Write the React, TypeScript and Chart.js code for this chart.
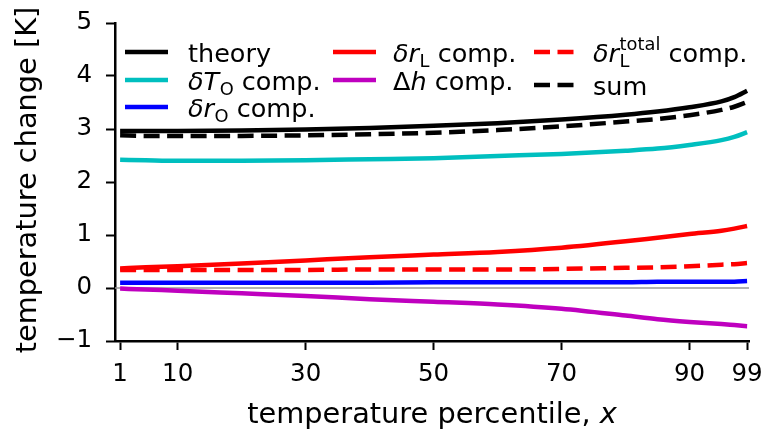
import React, { useEffect, useRef } from 'react';
import { Chart, registerables } from 'chart.js';
Chart.register(...registerables);

const percentiles = [1, 5, 10, 20, 30, 40, 50, 60, 70, 80, 85, 90, 95, 97, 99];
const theory = [2.96, 2.96, 2.96, 2.97, 2.99, 3.02, 3.06, 3.11, 3.18, 3.27, 3.33, 3.41, 3.52, 3.6, 3.72];
const dTOcomp = [2.42, 2.41, 2.4, 2.4, 2.41, 2.43, 2.45, 2.49, 2.53, 2.59, 2.63, 2.7, 2.79, 2.85, 2.94];
const drOcomp = [0.1, 0.1, 0.1, 0.1, 0.1, 0.1, 0.11, 0.11, 0.11, 0.11, 0.12, 0.12, 0.12, 0.12, 0.13];
const drLcomp = [0.37, 0.39, 0.41, 0.46, 0.52, 0.58, 0.63, 0.68, 0.76, 0.88, 0.95, 1.02, 1.08, 1.12, 1.17];
const dhComp = [-0.01, -0.03, -0.05, -0.1, -0.15, -0.21, -0.26, -0.31, -0.39, -0.52, -0.59, -0.64, -0.68, -0.7, -0.72];
const drLtotalComp = [0.34, 0.34, 0.34, 0.34, 0.34, 0.35, 0.35, 0.35, 0.36, 0.38, 0.39, 0.41, 0.44, 0.45, 0.47];
const sumComp = [2.88, 2.87, 2.87, 2.87, 2.88, 2.9, 2.93, 2.98, 3.05, 3.14, 3.19, 3.26, 3.36, 3.42, 3.51];
const xTicks = [1, 10, 30, 50, 70, 90, 99];
const yTicks = [-1, 0, 1, 2, 3, 4, 5];
const xRange = [0.2, 99.3];

const FONT = '"DejaVu Sans"';
const LW = 4.5;
const DASH = [16, 7.5];

type Seg = { t: string; it?: boolean; scale?: number; dy?: number; noAdv?: boolean; dx?: number };

function drawRich(ctx: CanvasRenderingContext2D, x: number, y: number, segs: Seg[], size: number) {
  let cx = x;
  for (const s of segs) {
    const fs = size * (s.scale || 1);
    ctx.font = `${s.it ? 'italic ' : ''}${fs}px ${FONT}`;
    const px = cx + (s.dx || 0);
    ctx.fillText(s.t, px, y + (s.dy || 0));
    if (!s.noAdv) cx = px + ctx.measureText(s.t).width;
  }
  return cx - x;
}

function measureRich(ctx: CanvasRenderingContext2D, segs: Seg[], size: number) {
  let w = 0;
  for (const s of segs) {
    const fs = size * (s.scale || 1);
    ctx.font = `${s.it ? 'italic ' : ''}${fs}px ${FONT}`;
    if (!s.noAdv) w += ctx.measureText(s.t).width + (s.dx || 0);
  }
  return w;
}

const LEG = 25.5;
const TITLE = 28.8;
const subL = (t: string): Seg => ({ t, scale: 0.7, dy: 4.5, dx: 0.5 });

const legendItems = [
  { color: '#000000', dash: false, x0: 125, tx: 188, y: 52, segs: [{ t: 'theory' }] as Seg[] },
  { color: '#00BFBF', dash: false, x0: 125, tx: 188, y: 80, segs: [{ t: 'δ', it: true }, { t: 'T', it: true }, subL('O'), { t: ' comp.' }] as Seg[] },
  { color: '#0000FF', dash: false, x0: 125, tx: 188, y: 107, segs: [{ t: 'δ', it: true }, { t: 'r', it: true }, subL('O'), { t: ' comp.' }] as Seg[] },
  { color: '#FF0000', dash: false, x0: 333, tx: 393, y: 52, segs: [{ t: 'δ', it: true }, { t: 'r', it: true }, subL('L'), { t: ' comp.' }] as Seg[] },
  { color: '#BF00BF', dash: false, x0: 333, tx: 393, y: 80, segs: [{ t: 'Δ' }, { t: 'h', it: true }, { t: ' comp.' }] as Seg[] },
  { color: '#FF0000', dash: true, x0: 534, tx: 593, y: 52, segs: [{ t: 'δ', it: true }, { t: 'r', it: true }, { t: 'L', scale: 0.7, dy: 5, dx: 0.5, noAdv: true }, { t: 'total', scale: 0.7, dy: -12.5, dx: 0.5 }, { t: ' comp.' }] as Seg[] },
  { color: '#000000', dash: true, x0: 534, tx: 593, y: 85, segs: [{ t: 'sum' }] as Seg[] },
];

const overlayPlugin = {
  id: 'overlay',
  afterDraw(chart: any) {
    const ctx: CanvasRenderingContext2D = chart.ctx;
    const area = chart.chartArea;
    ctx.save();
    ctx.fillStyle = '#000';
    ctx.textAlign = 'left';
    ctx.textBaseline = 'alphabetic';
    for (const it of legendItems) {
      ctx.beginPath();
      ctx.strokeStyle = it.color;
      ctx.lineWidth = LW;
      ctx.lineCap = 'butt';
      ctx.setLineDash(it.dash ? DASH : []);
      ctx.moveTo(it.x0, it.y);
      ctx.lineTo(it.x0 + 43, it.y);
      ctx.stroke();
      ctx.setLineDash([]);
      drawRich(ctx, it.tx, it.y + 10, it.segs, LEG);
    }
    const xSegs: Seg[] = [{ t: 'temperature percentile, ' }, { t: 'x', it: true }];
    const w = measureRich(ctx, xSegs, TITLE);
    const cx = (area.left + area.right) / 2;
    drawRich(ctx, cx - w / 2, 423, xSegs, TITLE);
    ctx.translate(36, 180);
    ctx.rotate(-Math.PI / 2);
    ctx.textAlign = 'center';
    ctx.font = `${TITLE}px ${FONT}`;
    ctx.fillText('temperature change [K]', 0, 0);
    ctx.restore();
  },
};

function pts(vals: number[]) {
  return percentiles.map((p, i) => ({ x: p, y: vals[i] }));
}

const zeroPad = (s: any) => {
  s.paddingTop = 0;
  s.paddingBottom = 0;
  s.paddingLeft = 0;
  s.paddingRight = 0;
};

export default function App() {
  const ref = useRef<HTMLCanvasElement>(null);
  useEffect(() => {
    const line = (data: number[], color: string, dash: boolean, order: number) => ({
      data: pts(data),
      borderColor: color,
      backgroundColor: color,
      borderWidth: LW,
      borderDash: dash ? DASH : [],
      pointRadius: 0,
      pointHoverRadius: 0,
      pointBorderWidth: 0,
      fill: false,
      cubicInterpolationMode: 'monotone' as const,
      order,
    });
    const chart = new Chart(ref.current as HTMLCanvasElement, {
      type: 'line',
      data: {
        datasets: [
          line(theory, '#000000', false, 7),
          line(dTOcomp, '#00BFBF', false, 6),
          line(drOcomp, '#0000FF', false, 5),
          line(drLcomp, '#FF0000', false, 4),
          line(dhComp, '#BF00BF', false, 3),
          line(drLtotalComp, '#FF0000', true, 2),
          line(sumComp, '#000000', true, 1),
          {
            data: [{ x: xRange[0], y: 0 }, { x: xRange[1], y: 0 }],
            borderColor: '#999999',
            borderWidth: 1.3,
            pointRadius: 0,
            pointHoverRadius: 0,
            fill: false,
            order: 10,
          } as any,
        ],
      },
      options: {
        animation: false,
        responsive: true,
        maintainAspectRatio: false,
        layout: { padding: { left: 0, top: 23, right: 17, bottom: 0 }, autoPadding: false },
        plugins: { legend: { display: false }, tooltip: { enabled: false } },
        scales: {
          x: {
            type: 'linear',
            min: xRange[0],
            max: xRange[1],
            afterBuildTicks: (s: any) => { s.ticks = xTicks.map((v) => ({ value: v })); },
            afterFit: (s: any) => { s.height = 93; zeroPad(s); },
            grid: { display: true, drawOnChartArea: false, drawTicks: true, tickLength: 9, tickWidth: 2, tickColor: '#000' },
            border: { display: true, color: '#000', width: 2.5 },
            ticks: {
              color: '#000',
              font: { family: 'DejaVu Sans', size: 24.5 },
              padding: 10,
              maxRotation: 0,
              autoSkip: false,
              callback: (v: any) => String(v),
            },
          },
          y: {
            type: 'linear',
            min: -1,
            max: 5,
            afterBuildTicks: (s: any) => { s.ticks = yTicks.map((v) => ({ value: v })); },
            afterFit: (s: any) => { s.width = 115; zeroPad(s); },
            grid: { display: true, drawOnChartArea: false, drawTicks: true, tickLength: 9, tickWidth: 2, tickColor: '#000' },
            border: { display: true, color: '#000', width: 2.5 },
            ticks: {
              color: '#000',
              font: { family: 'DejaVu Sans', size: 24.5 },
              padding: 14,
              callback: (v: any) => (v < 0 ? '\u2212' + Math.abs(v) : String(v)),
            },
          },
        },
      },
      plugins: [overlayPlugin],
    });
    return () => chart.destroy();
  }, []);
  return (
    <div style={{ position: 'fixed', left: 0, top: 0, width: 766, height: 434 }}>
      <canvas ref={ref} />
    </div>
  );
}
